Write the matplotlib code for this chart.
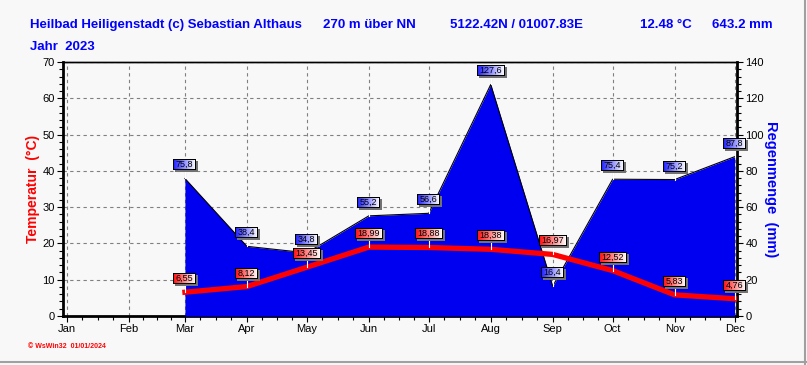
"""WsWin32-style yearly climate chart: monthly rain as area, mean temperature as line."""

import matplotlib

matplotlib.use("Agg")
import numpy as np
from matplotlib import pyplot as plt
from matplotlib import transforms as mtransforms
from matplotlib.lines import Line2D
from matplotlib.ticker import MultipleLocator

months = ["Jan", "Feb", "Mar", "Apr", "May", "Jun",
          "Jul", "Aug", "Sep", "Oct", "Nov", "Dec"]
month_start = [0, 31, 59, 90, 120, 151, 181, 212, 243, 273, 304, 334]
month_days = [31, 28, 31, 30, 31, 30, 31, 31, 30, 31, 30, 31]

# measured months (Mar..Dec)
data_months = ["Mar", "Apr", "May", "Jun", "Jul", "Aug", "Sep", "Oct", "Nov", "Dec"]
temperature = [6.55, 8.12, 13.45, 18.99, 18.88, 18.38, 16.97, 12.52, 5.83, 4.76]
rain = [75.8, 38.4, 34.8, 55.2, 56.6, 127.6, 16.4, 75.4, 75.2, 87.8]

BG = "#f8f8f8"
BLUE = "#0000ff"
RED = "#ff0000"
FONT = ["Liberation Sans", "DejaVu Sans"]
NARROW = ["Liberation Sans Narrow", "Liberation Sans", "DejaVu Sans"]

W, H = 807, 365
fig = plt.figure(figsize=(W / 100, H / 100), dpi=100, facecolor=BG)
ax = fig.add_axes([63 / W, (H - 316) / H, (737 - 63) / W, (316 - 62) / H])
ax.set_facecolor(BG)
ax2 = ax.twinx()

x = [month_start[months.index(m)] for m in data_months]

ax.set_xlim(-2, 335.2)
ax.set_ylim(0, 70)
ax2.set_ylim(0, 140)

# grid on the bottom axes, below the rain area
ax.set_xticks(month_start)
ax.set_xticklabels(months, family=FONT, fontsize=8)
minor = [s + k * d / 4 for s, d in zip(month_start, month_days) for k in (1, 2, 3)]
ax.set_xticks([m for m in minor if m < 335], minor=True)
ax.yaxis.set_major_locator(MultipleLocator(10))
ax.yaxis.set_minor_locator(MultipleLocator(2))
ax2.yaxis.set_major_locator(MultipleLocator(20))
ax2.yaxis.set_minor_locator(MultipleLocator(4))
ax.grid(True, which="major", color="#808080", linestyle=(0, (3, 3)), linewidth=0.8)
ax.set_axisbelow(True)

for a in (ax, ax2):
    a.tick_params(which="major", length=4, width=0.8, labelsize=8, pad=2)
    a.tick_params(which="minor", length=3, width=0.8)
for lab in ax.get_yticklabels() + ax2.get_yticklabels():
    lab.set_family(FONT)

ax.spines["right"].set_visible(False)
ax2.spines["left"].set_visible(False)
ax2.spines["bottom"].set_visible(False)
ax.spines["left"].set_linewidth(2)
ax.spines["bottom"].set_linewidth(2)
ax2.spines["right"].set_linewidth(2)
ax.spines["top"].set_linewidth(1)
ax2.spines["top"].set_linewidth(1)

ax.set_ylabel("Temperatur  (°C)", color=RED, fontsize=10, fontweight="bold",
              family=FONT, labelpad=2)
ax2.set_ylabel("Regenmenge  (mm)", color=BLUE, fontsize=10.5, fontweight="bold",
               family=FONT, rotation=-90, labelpad=10)

# rain area and temperature line
ax2.fill_between(x, 0, rain, color="#0000f0", linewidth=0, zorder=2)
ax2.plot(x, rain, color="black", linewidth=0.8, zorder=2.1)
ax2.plot(x, temperature, color=RED, linewidth=3.8, solid_joinstyle="miter",
         transform=ax.transData, zorder=3)


def label_box(axes, xv, yv, text, color):
    """Gradient value tag above a data point, drawn in figure pixels."""
    px, py = axes.transData.transform((xv, yv))
    w = 5 * len(text) + 3
    h = 11
    gap = 8
    x0 = int(round(px - w / 2))
    y0 = int(round(py + gap))
    arr = np.zeros((h + 2, w + 2, 4))
    arr[2:, 2:] = [0.45, 0.45, 0.45, 1.0]
    rgb = np.array(matplotlib.colors.to_rgb(color))
    t = np.linspace(0, 1, w)[:, None]
    grad = rgb * (1 - t) + np.array([1.0, 1.0, 1.0]) * t
    arr[:h, :w, :3] = grad[None, :, :]
    arr[:h, :w, 3] = 1
    arr[0, :w, :3] = 0
    arr[h - 1, :w, :3] = 0
    arr[:h, 0, :3] = 0
    arr[:h, w - 1, :3] = 0
    fig.figimage(arr, xo=x0, yo=y0 - 2, origin="upper", zorder=5)
    fig.add_artist(Line2D([px, px], [py, y0], color="white", linewidth=0.8,
                          transform=mtransforms.IdentityTransform(), zorder=4))
    fig.text(x0 + w / 2, y0 + h / 2 + 0.5, text, fontsize=6.5, family=FONT,
             ha="center", va="center", color="black", zorder=6,
             transform=mtransforms.IdentityTransform())


for xv, r in zip(x, rain):
    label_box(ax2, xv, r, f"{r:.1f}".replace(".", ","), "#2020ff")
for xv, t in zip(x, temperature):
    label_box(ax, xv, t, f"{t:.2f}".replace(".", ","), "#ff1010")

# header
title_y = 1 - 25 / H
fig.text(30 / W, title_y, "Heilbad Heiligenstadt (c) Sebastian Althaus", color=BLUE,
         fontsize=9.5, fontweight="bold", family=NARROW, va="center")
fig.text(323 / W, title_y, "270 m über NN", color=BLUE, fontsize=9.5,
         fontweight="bold", family=NARROW, va="center")
fig.text(450 / W, title_y, "5122.42N / 01007.83E", color=BLUE, fontsize=9.5,
         fontweight="bold", family=NARROW, va="center")
fig.text(640 / W, title_y, "12.48 °C", color=BLUE, fontsize=9.5,
         fontweight="bold", family=NARROW, va="center")
fig.text(712 / W, title_y, "643.2 mm", color=BLUE, fontsize=9.5,
         fontweight="bold", family=NARROW, va="center")
fig.text(30 / W, 1 - 47 / H, "Jahr  2023", color=BLUE, fontsize=9.5,
         fontweight="bold", family=NARROW, va="center")

# footer
fig.text(28 / W, 1 - 347 / H, "© WsWin32  01/01/2024", color=RED, fontsize=5,
         fontweight="bold", family=FONT, va="center")

# window frame
fig.add_artist(Line2D([805 / W, 805 / W], [0, 1], color="#a0a0a0", linewidth=1.5,
                      transform=fig.transFigure))
fig.add_artist(Line2D([0, 1], [3 / H, 3 / H], color="#a0a0a0", linewidth=1.5,
                      transform=fig.transFigure))

fig.savefig("out.png", dpi=100, facecolor=BG)
